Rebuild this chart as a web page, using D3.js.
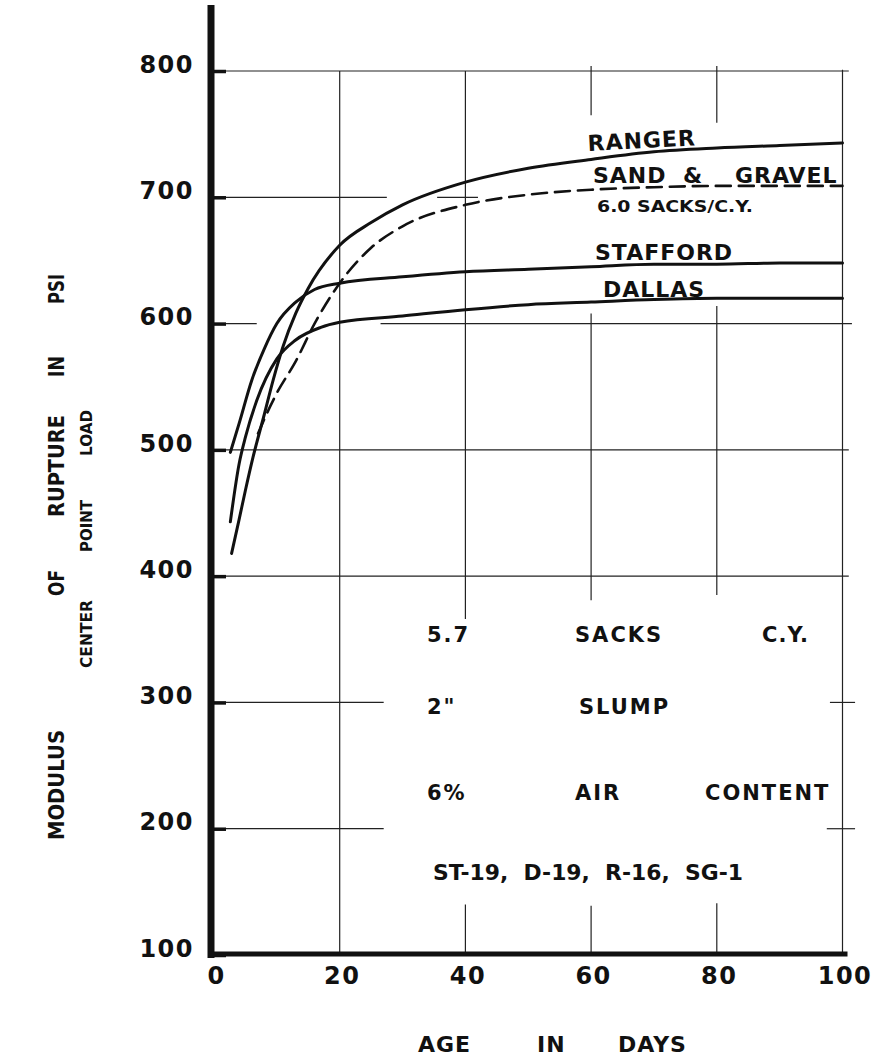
<!DOCTYPE html>
<html>
<head>
<meta charset="utf-8">
<script src="https://cdn.jsdelivr.net/npm/d3@7"></script>
<style>
  body { margin: 0; background: #fff; }
  text { font-family: "DejaVu Sans", sans-serif; font-weight: bold; fill: #111; }
</style>
</head>
<body>
<svg id="chart" width="892" height="1058"></svg>
<script>
// ---- data ----
const xTicks = [0, 20, 40, 60, 80, 100];
const yTicks = [100, 200, 300, 400, 500, 600, 700, 800];

const rangerDays = [2.8, 4, 5, 6.2, 8, 9.4, 11, 13, 15, 20, 25, 30, 40, 50, 60, 70, 80, 90, 100];
const rangerPsi  = [418, 445, 468, 494, 528, 555, 582, 608, 628, 662, 680, 694, 712, 723, 730, 736, 739, 741, 743];

const sandDays = [7, 8.9, 10, 13, 16, 20, 25, 30, 40, 50, 60, 70, 80, 90, 100];
const sandPsi  = [513, 534, 545, 570, 600, 632, 660, 677, 694, 702, 706, 708, 709, 709, 709];

const staffordDays = [2.6, 4, 6, 8, 10, 13, 16, 20, 30, 40, 50, 60, 70, 80, 90, 100];
const staffordPsi  = [498, 521, 555, 580, 600, 617, 627, 632, 637, 641, 643, 645, 647, 647, 648, 648];

const dallasDays = [2.6, 4, 5, 6.8, 10, 13, 17, 20, 30, 40, 50, 60, 70, 80, 90, 100];
const dallasPsi  = [443, 489, 510, 539, 572, 587, 597, 601, 606, 611, 615, 617, 619, 620, 620, 620];

// grid pieces, as [value, from, to] -- the plate's grid is broken around the notes
const hGrid = [
  [800, 0, 101], [700, 0, 27.5], [700, 35.5, 42], [600, 0, 6.8], [600, 26.5, 101.5],
  [500, 0, 101], [400, 0, 101], [300, 0, 27], [300, 98, 102], [200, 0, 27], [200, 97.5, 102]
];
const vGrid = [
  [20, 100, 800], [40, 366, 800], [40, 100, 140], [60, 381, 608], [60, 765, 804],
  [60, 100, 139], [80, 385, 614], [80, 759, 804], [80, 100, 141], [100, 100, 801]
];

// ---- chart ----
const svg = d3.select("#chart");
const x = d3.scaleLinear().domain([0, 100]).range([214, 842.5]);
const y = d3.scaleLinear().domain([100, 800]).range([955, 71]);

const grid = svg.append("g").attr("stroke", "#222").attr("stroke-width", 1.2);
grid.selectAll(".h").data(hGrid).join("line")
  .attr("x1", d => x(d[1])).attr("x2", d => x(d[2]))
  .attr("y1", d => y(d[0])).attr("y2", d => y(d[0]));
grid.selectAll(".v").data(vGrid).join("line")
  .attr("x1", d => x(d[0])).attr("x2", d => x(d[0]))
  .attr("y1", d => y(d[1])).attr("y2", d => y(d[2]));

// axes
const yAxis = svg.append("g")
  .attr("transform", `translate(${x(0)},0)`)
  .call(d3.axisLeft(y).tickValues(yTicks).tickSizeInner(-12).tickSizeOuter(0).tickPadding(20));
yAxis.select(".domain").remove();
yAxis.selectAll(".tick line").attr("stroke", "#111").attr("stroke-width", 3.5);
yAxis.selectAll(".tick text")
  .attr("dy", "0.05em").attr("font-size", 24).attr("letter-spacing", 1.5)
  .attr("font-family", "DejaVu Sans").attr("fill", "#111");

const xAxis = svg.append("g")
  .attr("transform", `translate(2,${y(100)})`)
  .call(d3.axisBottom(x).tickValues(xTicks).tickSize(0).tickPadding(12));
xAxis.select(".domain").remove();
xAxis.selectAll(".tick text")
  .attr("font-size", 24).attr("letter-spacing", 1.5)
  .attr("font-family", "DejaVu Sans").attr("fill", "#111");

// heavy axis lines
svg.append("line").attr("x1", x(0) - 3).attr("x2", x(0) - 3).attr("y1", 5).attr("y2", y(100) + 3)
  .attr("stroke", "#111").attr("stroke-width", 7);
svg.append("line").attr("x1", x(0) - 6).attr("x2", x(100) + 5).attr("y1", y(100) - 1).attr("y2", y(100) - 1)
  .attr("stroke", "#111").attr("stroke-width", 5);

// curves
const line = d3.line().x(d => x(d[0])).y(d => y(d[1])).curve(d3.curveMonotoneX);
const curves = [
  { pts: d3.zip(rangerDays, rangerPsi), dash: null },
  { pts: d3.zip(staffordDays, staffordPsi), dash: null },
  { pts: d3.zip(dallasDays, dallasPsi), dash: null },
  { pts: d3.zip(sandDays, sandPsi), dash: "15 8" }
];
svg.append("g").selectAll("path").data(curves).join("path")
  .attr("d", d => line(d.pts))
  .attr("fill", "none").attr("stroke", "#111")
  .attr("stroke-width", d => d.dash ? 2.6 : 3)
  .attr("stroke-dasharray", d => d.dash)
  .attr("stroke-linecap", "round");

// labels on the curves
function label(t, px, py, size, opts = {}) {
  const el = svg.append("text").attr("x", px).attr("y", py).attr("font-size", size).text(t);
  if (opts.ls) el.attr("letter-spacing", opts.ls);
  if (opts.rot) el.attr("transform", `rotate(${opts.rot},${px},${py})`);
  if (opts.len) el.attr("textLength", opts.len).attr("lengthAdjust", "spacingAndGlyphs");
  return el;
}
label("RANGER", 588, 151, 22, { ls: 1, rot: -3 });
label("SAND", 593, 183, 22, { ls: 1 });
label("&", 683, 183, 22);
label("GRAVEL", 735, 183, 22, { ls: 1 });
label("6.0 SACKS/C.Y.", 597, 212, 16, { len: 156 });
label("STAFFORD", 595, 260, 22, { ls: 1 });
label("DALLAS", 603, 297, 22, { ls: 1 });

// notes box
label("5.7", 427, 642, 21, { ls: 2 });
label("SACKS", 575, 642, 21, { ls: 2 });
label("C.Y.", 762, 642, 21, { ls: 1 });
label("2\"", 427, 714, 21, { ls: 2 });
label("SLUMP", 579, 714, 21, { ls: 2 });
label("6%", 427, 800, 21, { ls: 2 });
label("AIR", 575, 800, 21, { ls: 2 });
label("CONTENT", 705, 800, 21, { ls: 2 });
label("ST-19,  D-19,  R-16,  SG-1", 433, 880, 21, { len: 310 }).attr("xml:space", "preserve");

// axis titles
label("AGE", 418, 1052, 22, { ls: 1 });
label("IN", 537, 1052, 22, { ls: 1 });
label("DAYS", 618, 1052, 22, { ls: 1 });

function vlabel(t, bx, yBottom, yTop, size) {
  svg.append("text").attr("x", 0).attr("y", 0).attr("font-size", size)
    .attr("transform", `translate(${bx},${yBottom}) rotate(-90)`)
    .attr("textLength", yBottom - yTop).attr("lengthAdjust", "spacingAndGlyphs")
    .text(t);
}
vlabel("MODULUS", 64, 840, 730, 22);
vlabel("OF", 64, 596, 570, 22);
vlabel("RUPTURE", 64, 517, 415, 22);
vlabel("IN", 64, 377, 356, 22);
vlabel("PSI", 64, 304, 274, 22);
vlabel("CENTER", 92, 668, 600, 16);
vlabel("POINT", 92, 552, 500, 16);
vlabel("LOAD", 92, 456, 410, 16);
</script>
</body>
</html>
